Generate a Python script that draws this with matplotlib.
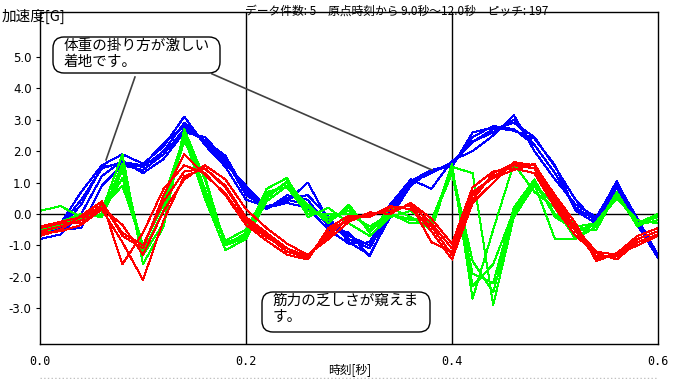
import numpy as np
import matplotlib
matplotlib.use("Agg")
import matplotlib.pyplot as plt
from matplotlib.lines import Line2D
from matplotlib.patches import FancyBboxPatch
from matplotlib.transforms import IdentityTransform

plt.rcParams['font.family'] = ['Noto Sans CJK JP', 'DejaVu Sans']

# ===== DATA =====
# time axis: one sample every 0.02 s (0.0 .. 0.6 s)
time_s = np.round(np.arange(31) * 0.02, 3)

blue_trials = [
    [-0.65, -0.45, 0.3, 1.5, 1.6, 1.5, 2.0, 2.9, 2.3, 1.7, 0.8, 0.2, 0.45, 0.3, -0.3, -0.8,
     -1.1, 0.1, 1.0, 1.35, 1.6, 2.3, 2.6, 3.0, 2.2, 1.3, 0.2, -0.2, 0.95, -0.2, -1.35],
    [-0.8, -0.65, 0.0, 1.2, 1.7, 1.3, 1.75, 2.6, 2.45, 1.75, 0.6, 0.2, 0.5, 0.6, -0.1, -0.9,
     -1.3, -0.1, 0.9, 1.4, 1.5, 2.6, 2.75, 2.65, 2.4, 1.55, 0.1, -0.3, 0.85, -0.3, -1.4],
    [-0.55, -0.3, 0.7, 1.55, 1.9, 1.6, 2.15, 3.1, 2.2, 1.5, 0.45, 0.25, 0.4, 1.0, -0.2, -0.7,
     -1.0, 0.3, 1.1, 0.8, 1.7, 2.0, 2.5, 3.15, 2.0, 1.1, 0.3, -0.1, 1.0, -0.15, -1.3],
    [-0.7, -0.5, -0.45, 0.9, 1.55, 1.4, 1.9, 2.7, 2.35, 1.85, 0.7, 0.15, 0.6, 0.45, -0.4, -0.6,
     -1.35, 0.0, 1.0, 1.3, 1.65, 2.3, 2.7, 2.9, 2.45, 1.5, 0.45, -0.25, 0.9, -0.25, -1.35],
    [-0.6, -0.35, 0.45, 1.45, 1.65, 1.55, 2.25, 2.8, 2.3, 1.6, 0.9, 0.2, 0.35, 0.2, -0.5, -0.95,
     -0.9, 0.2, 1.05, 1.4, 1.55, 2.45, 2.8, 2.7, 2.2, 1.3, 0.15, -0.15, 1.05, -0.35, -1.4],
]

green_trials = [
    [-0.4, -0.3, -0.1, -0.05, 1.6, -1.2, 0.1, 2.5, 0.6, -0.9, -0.7, 0.6, 1.0, 0.1, -0.1, 0.1,
     -0.5, 0.0, -0.2, -0.2, 1.4, -1.5, -2.5, 0.0, 1.0, 0.0, -0.5, -0.35, 0.6, -0.3, -0.1],
    [0.1, 0.25, -0.1, 0.1, 1.9, -1.6, -0.4, 2.7, 1.1, -1.0, -0.6, 0.8, 1.15, -0.1, 0.2, -0.3,
     -0.7, -0.1, 0.1, -0.4, 1.6, -2.7, -0.5, 1.6, 0.7, 0.2, -0.8, -0.4, 0.7, -0.4, -0.05],
    [-0.5, -0.35, -0.2, 0.2, 0.9, -1.05, 0.5, 2.45, 0.5, -1.15, -0.8, 0.4, 0.9, 0.3, -0.3, 0.3,
     -0.6, 0.2, -0.1, -0.5, 1.5, 1.3, -2.9, -0.1, 0.9, 0.3, -0.4, -0.3, 0.5, -0.2, -0.3],
    [-0.45, -0.25, 0.0, -0.1, 1.4, -1.3, -0.3, 2.6, 0.8, -0.85, -0.5, 0.7, 0.85, 0.0, 0.0, 0.0,
     -0.4, 0.0, -0.3, -0.3, 1.3, -1.9, -2.2, 0.2, 1.1, -0.1, -0.5, -0.5, 0.65, -0.35, -0.2],
    [-0.6, -0.4, -0.15, 0.0, 1.15, -1.0, 0.3, 2.3, 1.2, -1.0, -0.75, 0.5, 1.05, 0.2, -0.2, 0.2,
     -0.55, -0.05, -0.15, -0.25, 1.45, -2.3, -1.6, 0.1, 0.95, -0.8, -0.8, -0.25, 0.55, -0.3, 0.0],
]

red_trials = [
    [-0.55, -0.4, -0.2, 0.3, -0.6, -1.0, 0.4, 1.35, 1.45, 0.9, -0.1, -0.6, -1.1, -1.4, -0.6, -0.15,
     0.0, 0.1, 0.3, -0.3, -1.1, 0.6, 1.2, 1.55, 1.45, 0.4, -0.5, -1.35, -1.35, -0.8, -0.55],
    [-0.7, -0.5, -0.05, 0.4, -1.6, -0.6, 0.8, 1.55, 1.3, 0.6, -0.35, -0.85, -1.3, -1.45, -0.45, -0.05,
     -0.05, 0.2, 0.25, -0.55, -1.45, 0.35, 1.0, 1.65, 1.55, 0.6, -0.3, -1.5, -1.25, -0.7, -0.45],
    [-0.45, -0.3, -0.3, 0.2, -0.35, -1.3, 0.1, 1.1, 1.55, 1.1, 0.15, -0.45, -0.95, -1.3, -0.8, -0.25,
     0.05, 0.0, 0.35, -0.15, -0.95, 0.85, 1.35, 1.45, 1.3, 0.2, -0.7, -1.25, -1.45, -0.9, -0.65],
    [-0.6, -0.55, -0.35, 0.15, -0.9, -2.1, -0.2, 1.2, 1.45, 0.85, -0.15, -0.7, -1.2, -1.4, -0.5, -0.2,
     0.0, 0.1, 0.3, -0.9, -1.2, 0.45, 1.3, 1.6, 1.45, 0.3, -0.55, -1.4, -1.35, -0.8, -0.55],
    [-0.4, -0.25, -0.1, 0.4, -0.7, -1.1, 0.6, 1.9, 1.25, 0.65, -0.25, -0.75, -1.1, -1.35, -0.7, -0.1,
     -0.1, 0.25, 0.15, -0.4, -1.3, 0.7, 1.15, 1.4, 1.6, 0.5, -0.45, -1.2, -1.3, -1.0, -0.7],
]

y_ticks = [-3, -2, -1, 0, 1, 2, 3, 4, 5]
x_ticks = [0.0, 0.2, 0.4, 0.6]

title_text = "データ件数: 5　原点時刻から 9.0秒～12.0秒　ピッチ: 197"
note_top = "体重の掛り方が激しい\n着地です。"
note_bottom = "筋力の乏しさが窺えま\nす。"

H = 379  # figure height in pixels (for pixel-placed callouts)

# ===== PLOT =====
fig = plt.figure(figsize=(6.85, 3.79), dpi=100)
ax = fig.add_axes([40 / 685, 35 / 379, 618 / 685, 332 / 379])

for tr in blue_trials:
    ax.plot(time_s, tr, color="#0000ff", lw=0.72, antialiased=False)
for tr in green_trials:
    ax.plot(time_s, tr, color="#00ff00", lw=0.72, antialiased=False)
for tr in red_trials:
    ax.plot(time_s, tr, color="#ff0000", lw=0.72, antialiased=False)

# reference lines
ax.axhline(0, color="black", lw=1, zorder=1)
for xv in [0.2, 0.4]:
    ax.axvline(xv, color="black", lw=1, zorder=1)

ax.set_xlim(0, 0.6)
ax.set_ylim(-4.14, 6.43)
ax.set_yticks(y_ticks)
ax.set_yticklabels([f"{v:.1f}" for v in y_ticks], family="DejaVu Sans", fontsize=8.5)
ax.set_xticks(x_ticks)
ax.set_xticklabels([f"{v:.1f}" for v in x_ticks], family="DejaVu Sans Mono", fontsize=8.5)
ax.tick_params(axis="x", length=0, pad=8)
ax.tick_params(axis="y", length=3, pad=3)
for s in ax.spines.values():
    s.set_linewidth(1)

# ===== TEXTS =====
fig.text(245 / 685, 1 - 11 / 379, title_text, fontsize=8.5, va="center", ha="left")
fig.text(2 / 685, 1 - 16 / 379, "加速度[G]", fontsize=10.5, va="center", ha="left")
fig.text(350 / 685, 1 - 370 / 379, "時刻[秒]", fontsize=8.5, va="center", ha="center")

# ===== CALLOUTS (placed in pixels) =====
ax.plot([0.0922, 0.0641], [4.36, 1.72], color="#404040", lw=1.2, zorder=4)
ax.plot([0.167, 0.3806], [4.46, 1.40], color="#404040", lw=1.2, zorder=4)

for (x0, y0, w, h), txt in [((53, 37, 167, 36), note_top), ((262, 292, 168, 40), note_bottom)]:
    patch = FancyBboxPatch((x0, H - y0 - h), w, h, boxstyle="round,pad=0,rounding_size=11",
                           facecolor="white", edgecolor="black", lw=1,
                           transform=IdentityTransform(), zorder=5)
    fig.add_artist(patch)
    fig.text((x0 + 11) / 685, 1 - (y0 + 2) / H, txt, fontsize=10.5, va="top", ha="left",
             linespacing=1.15, zorder=6)

# bottom status strip
fig.add_artist(Line2D([40 / 685, 658 / 685], [1.5 / 379, 1.5 / 379], color="#c0c0c0", lw=1, ls=":"))

fig.savefig("out.png", dpi=100)
